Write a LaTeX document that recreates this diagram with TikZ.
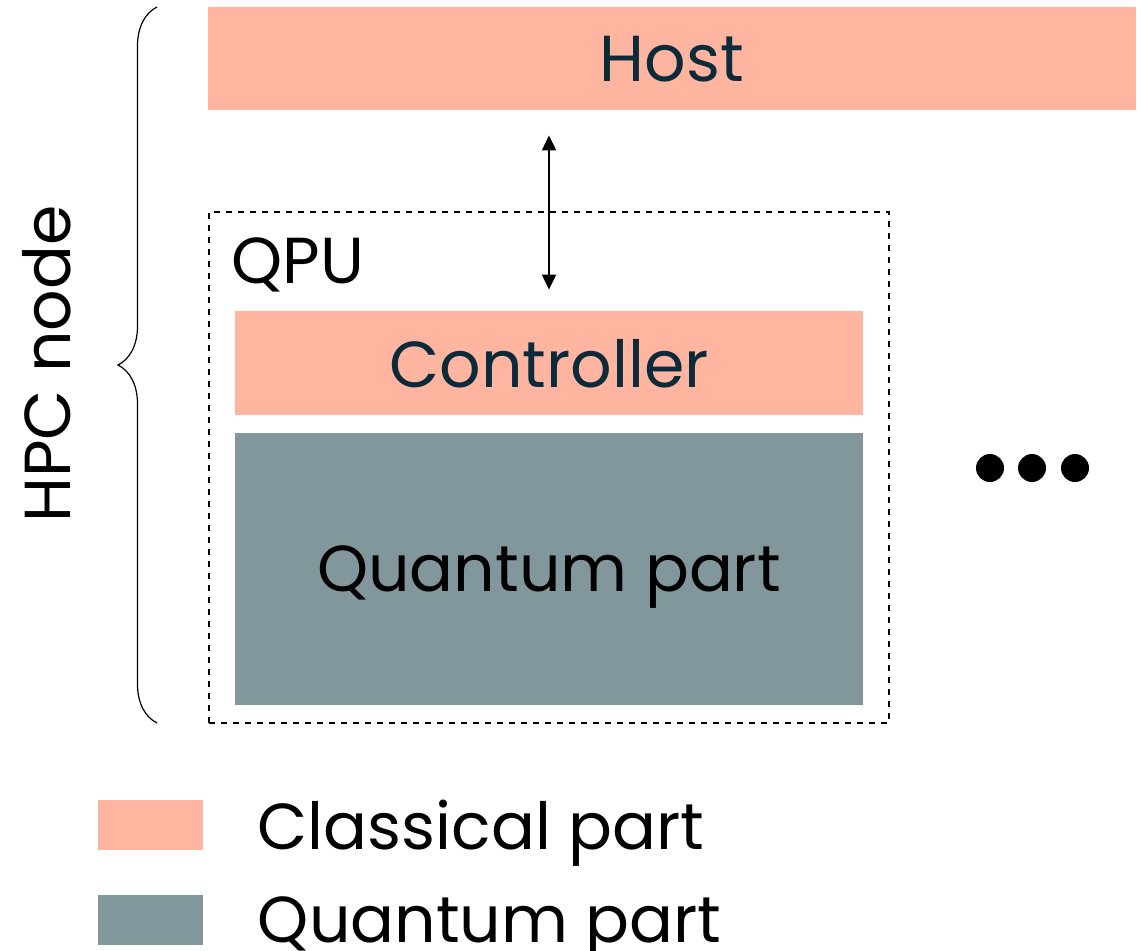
\documentclass[tikz,border=0pt]{standalone}
\usepackage{fontspec}
\setmainfont{Poppins}
\usetikzlibrary{arrows.meta,positioning,decorations.pathreplacing}

\definecolor{classic}{HTML}{FFB5A0}
\definecolor{quant}{HTML}{82979C}
\definecolor{darkink}{HTML}{0B2B3A}

\begin{document}
\begin{tikzpicture}[
        x=0.5pt, y=-0.5pt,
        big/.style={font=\fontsize{32.5}{39}\selectfont, text depth=0pt},
        part/.style={rectangle, inner sep=0pt, big},
        classical/.style={part, fill=classic, text=darkink},
        quantum/.style={part, fill=quant, text=black},
        swatch/.style={rectangle, inner sep=0pt, minimum width=52.5pt, minimum height=25pt},
        link/.style={{Triangle[length=7.5pt, width=7pt]}-{Triangle[length=7.5pt, width=7pt]}, line width=1pt}
    ]
        \useasboundingbox (0,0) rectangle (1141,950);

        \node[classical, minimum width=464pt, minimum height=51.5pt] (host) at (672,58.5) {Host};
        \node[draw, dashed, line width=0.6pt, minimum width=340pt, minimum height=255.5pt] (qpu) at (549,467.5) {};
        \node[big, anchor=base west, inner sep=0pt] (qpulabel) at (231,283) {QPU};
        \node[classical, minimum width=314pt, minimum height=52pt] (ctrl) at (549,363) {Controller};
        \node[quantum, minimum width=314pt, minimum height=136pt] (qpart) at (549,569) {Quantum part};

        \draw[link, shorten <=12.5pt, shorten >=10.5pt] (host.south -| ctrl.north) -- (ctrl.north);

        % more nodes
        \foreach \dx/\name in {990/dotA, 1032/dotB, 1075/dotC}
            \fill (\dx,468) circle (7pt) coordinate (\name);

        % HPC node brace
        \draw[line width=0.6pt, decorate, decoration={brace, amplitude=19.5pt}] (157,723) -- (157,7);
        \node[big, rotate=90, anchor=base, inner sep=0pt] (hpc) at (70,364) {HPC node};

        % legend
        \node[swatch, fill=classic] (keyc) at (150.5,825) {};
        \node[swatch, fill=quant] (keyq) at (150.5,920) {};
        \node[big, inner sep=0pt, right=27pt of keyc] (keyctext) {Classical part};
        \node[big, inner sep=0pt, right=27pt of keyq] (keyqtext) {Quantum part};
    \end{tikzpicture}
\end{document}
